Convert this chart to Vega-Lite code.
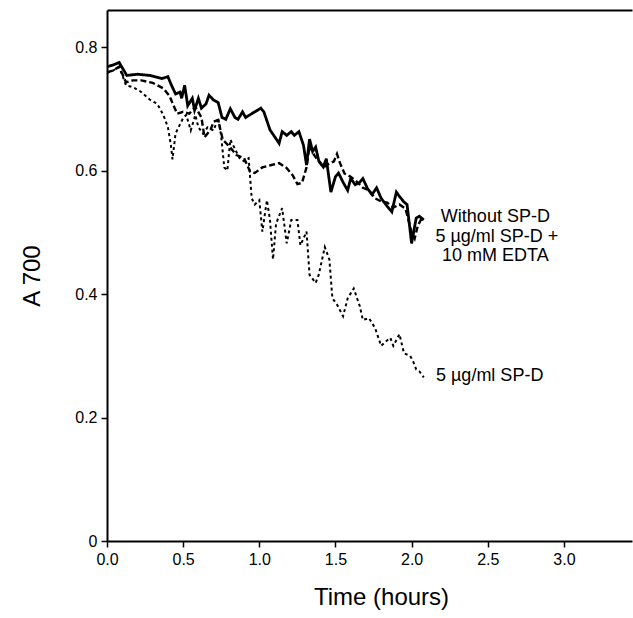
{
  "$schema": "https://vega.github.io/schema/vega-lite/v6.json",
  "width": 525,
  "height": 531,
  "autosize": {"type": "none"},
  "padding": {"left": 107, "top": 10, "right": 1, "bottom": 77},
  "background": "white",
  "config": {
    "view": {"stroke": null},
    "font": "Liberation Sans",
    "axis": {"grid": false, "domainColor": "black", "domainWidth": 2, "tickColor": "black", "tickWidth": 1.5, "tickSize": 6, "labelColor": "black", "labelFontSize": 16, "titleColor": "black", "titleFontWeight": "normal", "labelFont": "Liberation Sans", "titleFont": "Liberation Sans"}
  },
  "resolve": {"axis": {"x": "independent"}},
  "datasets": {
    "curves": [
      {"s":"Without SP-D","t":0,"v":0.768},{"s":"Without SP-D","t":0.04,"v":0.771},{"s":"Without SP-D","t":0.08,"v":0.775},{"s":"Without SP-D","t":0.13,"v":0.754},{"s":"Without SP-D","t":0.2,"v":0.756},{"s":"Without SP-D","t":0.28,"v":0.754},{"s":"Without SP-D","t":0.36,"v":0.749},{"s":"Without SP-D","t":0.4,"v":0.752},{"s":"Without SP-D","t":0.42,"v":0.74},{"s":"Without SP-D","t":0.45,"v":0.724},{"s":"Without SP-D","t":0.48,"v":0.727},{"s":"Without SP-D","t":0.49,"v":0.717},{"s":"Without SP-D","t":0.51,"v":0.738},{"s":"Without SP-D","t":0.53,"v":0.705},{"s":"Without SP-D","t":0.56,"v":0.717},{"s":"Without SP-D","t":0.575,"v":0.698},{"s":"Without SP-D","t":0.6,"v":0.717},{"s":"Without SP-D","t":0.62,"v":0.701},{"s":"Without SP-D","t":0.65,"v":0.708},{"s":"Without SP-D","t":0.67,"v":0.722},{"s":"Without SP-D","t":0.7,"v":0.714},{"s":"Without SP-D","t":0.73,"v":0.71},{"s":"Without SP-D","t":0.755,"v":0.686},{"s":"Without SP-D","t":0.78,"v":0.683},{"s":"Without SP-D","t":0.81,"v":0.7},{"s":"Without SP-D","t":0.84,"v":0.686},{"s":"Without SP-D","t":0.86,"v":0.683},{"s":"Without SP-D","t":0.89,"v":0.695},{"s":"Without SP-D","t":0.91,"v":0.686},{"s":"Without SP-D","t":0.95,"v":0.692},{"s":"Without SP-D","t":1.01,"v":0.701},{"s":"Without SP-D","t":1.03,"v":0.695},{"s":"Without SP-D","t":1.07,"v":0.666},{"s":"Without SP-D","t":1.13,"v":0.644},{"s":"Without SP-D","t":1.15,"v":0.663},{"s":"Without SP-D","t":1.18,"v":0.657},{"s":"Without SP-D","t":1.21,"v":0.663},{"s":"Without SP-D","t":1.23,"v":0.657},{"s":"Without SP-D","t":1.26,"v":0.663},{"s":"Without SP-D","t":1.29,"v":0.641},{"s":"Without SP-D","t":1.31,"v":0.609},{"s":"Without SP-D","t":1.33,"v":0.651},{"s":"Without SP-D","t":1.35,"v":0.631},{"s":"Without SP-D","t":1.37,"v":0.638},{"s":"Without SP-D","t":1.39,"v":0.616},{"s":"Without SP-D","t":1.42,"v":0.606},{"s":"Without SP-D","t":1.44,"v":0.619},{"s":"Without SP-D","t":1.47,"v":0.565},{"s":"Without SP-D","t":1.5,"v":0.59},{"s":"Without SP-D","t":1.52,"v":0.596},{"s":"Without SP-D","t":1.55,"v":0.581},{"s":"Without SP-D","t":1.58,"v":0.568},{"s":"Without SP-D","t":1.6,"v":0.587},{"s":"Without SP-D","t":1.63,"v":0.577},{"s":"Without SP-D","t":1.66,"v":0.581},{"s":"Without SP-D","t":1.68,"v":0.587},{"s":"Without SP-D","t":1.71,"v":0.571},{"s":"Without SP-D","t":1.74,"v":0.561},{"s":"Without SP-D","t":1.77,"v":0.572},{"s":"Without SP-D","t":1.8,"v":0.555},{"s":"Without SP-D","t":1.84,"v":0.542},{"s":"Without SP-D","t":1.87,"v":0.533},{"s":"Without SP-D","t":1.9,"v":0.565},{"s":"Without SP-D","t":1.92,"v":0.558},{"s":"Without SP-D","t":1.95,"v":0.549},{"s":"Without SP-D","t":1.97,"v":0.545},{"s":"Without SP-D","t":2.0,"v":0.482},{"s":"Without SP-D","t":2.03,"v":0.523},{"s":"Without SP-D","t":2.05,"v":0.526},{"s":"Without SP-D","t":2.08,"v":0.52},
      {"s":"EDTA","t":0,"v":0.759},{"s":"EDTA","t":0.04,"v":0.762},{"s":"EDTA","t":0.08,"v":0.768},{"s":"EDTA","t":0.125,"v":0.743},{"s":"EDTA","t":0.17,"v":0.746},{"s":"EDTA","t":0.225,"v":0.746},{"s":"EDTA","t":0.3,"v":0.742},{"s":"EDTA","t":0.37,"v":0.733},{"s":"EDTA","t":0.41,"v":0.721},{"s":"EDTA","t":0.46,"v":0.692},{"s":"EDTA","t":0.5,"v":0.695},{"s":"EDTA","t":0.54,"v":0.692},{"s":"EDTA","t":0.58,"v":0.703},{"s":"EDTA","t":0.62,"v":0.686},{"s":"EDTA","t":0.64,"v":0.654},{"s":"EDTA","t":0.68,"v":0.666},{"s":"EDTA","t":0.7,"v":0.679},{"s":"EDTA","t":0.73,"v":0.682},{"s":"EDTA","t":0.76,"v":0.65},{"s":"EDTA","t":0.8,"v":0.64},{"s":"EDTA","t":0.85,"v":0.625},{"s":"EDTA","t":0.9,"v":0.62},{"s":"EDTA","t":0.94,"v":0.598},{"s":"EDTA","t":0.97,"v":0.596},{"s":"EDTA","t":1.02,"v":0.605},{"s":"EDTA","t":1.08,"v":0.609},{"s":"EDTA","t":1.13,"v":0.612},{"s":"EDTA","t":1.18,"v":0.604},{"s":"EDTA","t":1.22,"v":0.592},{"s":"EDTA","t":1.25,"v":0.578},{"s":"EDTA","t":1.28,"v":0.58},{"s":"EDTA","t":1.31,"v":0.605},{"s":"EDTA","t":1.33,"v":0.64},{"s":"EDTA","t":1.36,"v":0.625},{"s":"EDTA","t":1.39,"v":0.615},{"s":"EDTA","t":1.42,"v":0.605},{"s":"EDTA","t":1.45,"v":0.61},{"s":"EDTA","t":1.49,"v":0.615},{"s":"EDTA","t":1.51,"v":0.627},{"s":"EDTA","t":1.53,"v":0.612},{"s":"EDTA","t":1.56,"v":0.595},{"s":"EDTA","t":1.6,"v":0.59},{"s":"EDTA","t":1.64,"v":0.582},{"s":"EDTA","t":1.68,"v":0.572},{"s":"EDTA","t":1.72,"v":0.568},{"s":"EDTA","t":1.76,"v":0.555},{"s":"EDTA","t":1.8,"v":0.55},{"s":"EDTA","t":1.84,"v":0.548},{"s":"EDTA","t":1.88,"v":0.54},{"s":"EDTA","t":1.92,"v":0.545},{"s":"EDTA","t":1.96,"v":0.538},{"s":"EDTA","t":2.0,"v":0.5},{"s":"EDTA","t":2.02,"v":0.49},{"s":"EDTA","t":2.04,"v":0.51},{"s":"EDTA","t":2.06,"v":0.52},{"s":"EDTA","t":2.08,"v":0.515},
      {"s":"SPD","t":0,"v":0.758},{"s":"SPD","t":0.04,"v":0.762},{"s":"SPD","t":0.08,"v":0.768},{"s":"SPD","t":0.125,"v":0.738},{"s":"SPD","t":0.17,"v":0.735},{"s":"SPD","t":0.22,"v":0.728},{"s":"SPD","t":0.28,"v":0.715},{"s":"SPD","t":0.33,"v":0.708},{"s":"SPD","t":0.37,"v":0.69},{"s":"SPD","t":0.4,"v":0.67},{"s":"SPD","t":0.42,"v":0.64},{"s":"SPD","t":0.43,"v":0.618},{"s":"SPD","t":0.45,"v":0.66},{"s":"SPD","t":0.47,"v":0.67},{"s":"SPD","t":0.5,"v":0.685},{"s":"SPD","t":0.52,"v":0.69},{"s":"SPD","t":0.55,"v":0.665},{"s":"SPD","t":0.58,"v":0.69},{"s":"SPD","t":0.6,"v":0.67},{"s":"SPD","t":0.63,"v":0.66},{"s":"SPD","t":0.66,"v":0.67},{"s":"SPD","t":0.7,"v":0.665},{"s":"SPD","t":0.73,"v":0.685},{"s":"SPD","t":0.75,"v":0.655},{"s":"SPD","t":0.77,"v":0.605},{"s":"SPD","t":0.79,"v":0.6},{"s":"SPD","t":0.81,"v":0.65},{"s":"SPD","t":0.84,"v":0.635},{"s":"SPD","t":0.87,"v":0.62},{"s":"SPD","t":0.9,"v":0.615},{"s":"SPD","t":0.93,"v":0.62},{"s":"SPD","t":0.95,"v":0.555},{"s":"SPD","t":0.97,"v":0.545},{"s":"SPD","t":1.0,"v":0.552},{"s":"SPD","t":1.02,"v":0.501},{"s":"SPD","t":1.05,"v":0.552},{"s":"SPD","t":1.07,"v":0.52},{"s":"SPD","t":1.09,"v":0.456},{"s":"SPD","t":1.11,"v":0.514},{"s":"SPD","t":1.15,"v":0.539},{"s":"SPD","t":1.18,"v":0.482},{"s":"SPD","t":1.21,"v":0.52},{"s":"SPD","t":1.25,"v":0.52},{"s":"SPD","t":1.27,"v":0.479},{"s":"SPD","t":1.31,"v":0.501},{"s":"SPD","t":1.33,"v":0.431},{"s":"SPD","t":1.37,"v":0.418},{"s":"SPD","t":1.39,"v":0.431},{"s":"SPD","t":1.43,"v":0.476},{"s":"SPD","t":1.46,"v":0.456},{"s":"SPD","t":1.48,"v":0.393},{"s":"SPD","t":1.51,"v":0.383},{"s":"SPD","t":1.55,"v":0.364},{"s":"SPD","t":1.58,"v":0.393},{"s":"SPD","t":1.62,"v":0.409},{"s":"SPD","t":1.66,"v":0.38},{"s":"SPD","t":1.68,"v":0.358},{"s":"SPD","t":1.72,"v":0.361},{"s":"SPD","t":1.76,"v":0.345},{"s":"SPD","t":1.8,"v":0.316},{"s":"SPD","t":1.83,"v":0.323},{"s":"SPD","t":1.86,"v":0.329},{"s":"SPD","t":1.88,"v":0.316},{"s":"SPD","t":1.92,"v":0.335},{"s":"SPD","t":1.95,"v":0.304},{"s":"SPD","t":1.99,"v":0.3},{"s":"SPD","t":2.01,"v":0.291},{"s":"SPD","t":2.03,"v":0.278},{"s":"SPD","t":2.05,"v":0.275},{"s":"SPD","t":2.08,"v":0.265}
    ],
    "labels": [
      {"label":"Without SP-D","t":2.55,"v":0.525},
      {"label":"5 µg/ml SP-D +","t":2.56,"v":0.493},
      {"label":"10 mM EDTA","t":2.55,"v":0.462}
    ],
    "labels2": [
      {"label":"5 µg/ml SP-D","t":2.16,"v":0.267}
    ]
  },
  "layer": [
    {
      "data": {"name": "curves"},
      "mark": {"type": "line", "color": "black", "strokeJoin": "miter", "clip": true},
      "encoding": {
        "x": {"field": "t", "type": "quantitative", "scale": {"domain": [0, 3.447], "nice": false, "zero": false},
          "axis": {"title": "Time (hours)", "titleFontSize": 24, "titleX": 274, "titlePadding": 18, "values": [0, 0.5, 1, 1.5, 2, 2.5, 3], "format": ".1f", "labelPadding": 4, "labelFlush": false}},
        "y": {"field": "v", "type": "quantitative", "scale": {"domain": [0, 0.86], "nice": false},
          "axis": {"title": "A 700", "titleFontSize": 24, "titlePadding": 30, "values": [0, 0.2, 0.4, 0.6, 0.8], "labelPadding": 4, "labelExpr": "datum.value == 0 ? '0' : format(datum.value, '.1f')", "labelFlush": false}},
        "detail": {"field": "s"},
        "strokeDash": {"field": "s", "type": "nominal", "legend": null, "scale": {"domain": ["Without SP-D", "EDTA", "SPD"], "range": [[1, 0], [6, 3], [3, 3]]}},
        "strokeWidth": {"field": "s", "type": "nominal", "legend": null, "scale": {"domain": ["Without SP-D", "EDTA", "SPD"], "range": [2.8, 2.0, 2.4]}}
      }
    },
    {
      "data": {"name": "labels"},
      "mark": {"type": "text", "align": "center", "baseline": "middle", "fontSize": 18, "color": "black", "font": "Liberation Sans"},
      "encoding": {
        "x": {"field": "t", "type": "quantitative", "axis": {"orient": "top", "title": null, "labels": false, "ticks": false, "domain": true}},
        "y": {"field": "v", "type": "quantitative"},
        "text": {"field": "label"}
      }
    },
    {
      "data": {"name": "labels2"},
      "mark": {"type": "text", "align": "left", "baseline": "middle", "fontSize": 18, "color": "black", "font": "Liberation Sans"},
      "encoding": {
        "x": {"field": "t", "type": "quantitative", "axis": null},
        "y": {"field": "v", "type": "quantitative"},
        "text": {"field": "label"}
      }
    }
  ]
}
